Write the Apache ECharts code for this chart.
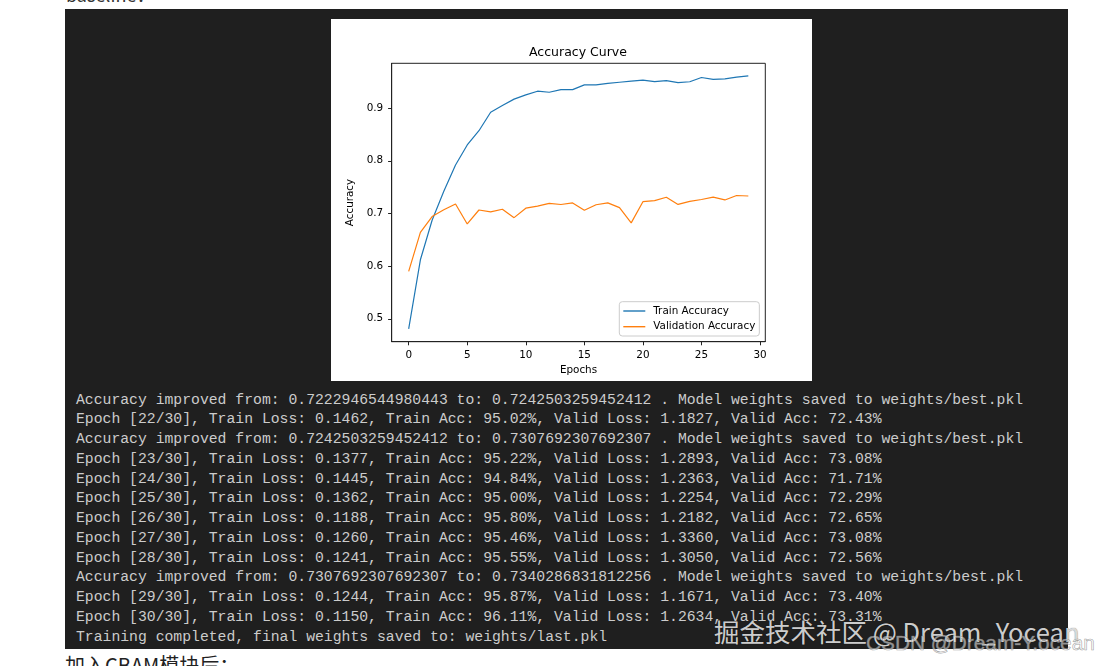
<!DOCTYPE html>
<html>
<head>
<meta charset="utf-8">
<script src="https://cdn.jsdelivr.net/npm/echarts@6/dist/echarts.min.js"></script>
<style>
html,body{margin:0;padding:0;background:#fff;width:1101px;height:666px;overflow:hidden;position:relative;}
#top{position:absolute;left:66px;top:-16px;font-family:"Noto Sans CJK SC","Noto Sans",sans-serif;font-size:18px;line-height:20px;color:#333;white-space:pre;}
#term{position:absolute;left:65px;top:9px;width:1003px;height:640px;background:#1f1f1f;overflow:hidden;}
#lines{position:absolute;left:11px;top:381.5px;font-family:"Liberation Mono","DejaVu Sans Mono",monospace;font-size:14.75px;line-height:19.75px;color:#cccccc;white-space:pre;}
#chart{position:absolute;left:331px;top:19px;width:481px;height:362px;background:#fff;}
#bottom{position:absolute;left:65px;top:653px;font-family:"Noto Sans CJK SC",sans-serif;font-size:20px;line-height:24px;color:#222;white-space:pre;}
#wm1{position:absolute;left:714px;top:615px;font-family:"Noto Sans CJK SC",sans-serif;font-size:25.5px;line-height:32px;color:rgba(232,232,232,0.9);text-shadow:0 0 1px rgba(0,0,0,0.6);white-space:pre;}
#wm2{position:absolute;left:866px;top:630px;font-family:"Liberation Sans",sans-serif;font-size:20.8px;line-height:26px;color:rgba(255,255,255,0.55);-webkit-text-stroke:0.6px rgba(130,130,130,0.75);white-space:pre;}
</style>
</head>
<body>
<div id="top">baseline：</div>
<div id="term"><div id="lines"></div></div>
<div id="chart"></div>
<div id="bottom">加入CBAM模块后：</div>
<div id="wm1">掘金技术社区 @ Dream_Yocean</div>
<div id="wm2">CSDN @Dream-Y.ocean</div>
<script>
// ---- chart data ----
const epochs = [0,1,2,3,4,5,6,7,8,9,10,11,12,13,14,15,16,17,18,19,20,21,22,23,24,25,26,27,28,29];
const trainAcc = [0.481,0.612,0.687,0.742,0.792,0.830,0.857,0.892,0.905,0.917,0.925,0.932,0.930,0.935,0.935,0.944,0.944,0.947,0.949,0.951,0.953,0.9502,0.9522,0.9484,0.9500,0.9580,0.9546,0.9555,0.9587,0.9611];
const valAcc = [0.590,0.664,0.694,0.707,0.718,0.680,0.7065,0.703,0.708,0.692,0.710,0.714,0.719,0.717,0.720,0.706,0.7165,0.720,0.711,0.682,0.7223,0.7243,0.7308,0.7171,0.7229,0.7265,0.7308,0.7256,0.7340,0.7331];
const xTicks = [0,5,10,15,20,25,30];
const yTicks = [0.5,0.6,0.7,0.8,0.9];
const seriesNames = ['Train Accuracy','Validation Accuracy'];
const chartTitle = 'Accuracy Curve';
const xName = 'Epochs';
const yName = 'Accuracy';

// ---- terminal text ----
const termLines = [
'Accuracy improved from: 0.7222946544980443 to: 0.7242503259452412 . Model weights saved to weights/best.pkl',
'Epoch [22/30], Train Loss: 0.1462, Train Acc: 95.02%, Valid Loss: 1.1827, Valid Acc: 72.43%',
'Accuracy improved from: 0.7242503259452412 to: 0.7307692307692307 . Model weights saved to weights/best.pkl',
'Epoch [23/30], Train Loss: 0.1377, Train Acc: 95.22%, Valid Loss: 1.2893, Valid Acc: 73.08%',
'Epoch [24/30], Train Loss: 0.1445, Train Acc: 94.84%, Valid Loss: 1.2363, Valid Acc: 71.71%',
'Epoch [25/30], Train Loss: 0.1362, Train Acc: 95.00%, Valid Loss: 1.2254, Valid Acc: 72.29%',
'Epoch [26/30], Train Loss: 0.1188, Train Acc: 95.80%, Valid Loss: 1.2182, Valid Acc: 72.65%',
'Epoch [27/30], Train Loss: 0.1260, Train Acc: 95.46%, Valid Loss: 1.3360, Valid Acc: 73.08%',
'Epoch [28/30], Train Loss: 0.1241, Train Acc: 95.55%, Valid Loss: 1.3050, Valid Acc: 72.56%',
'Accuracy improved from: 0.7307692307692307 to: 0.7340286831812256 . Model weights saved to weights/best.pkl',
'Epoch [29/30], Train Loss: 0.1244, Train Acc: 95.87%, Valid Loss: 1.1671, Valid Acc: 73.40%',
'Epoch [30/30], Train Loss: 0.1150, Train Acc: 96.11%, Valid Loss: 1.2634, Valid Acc: 73.31%',
'Training completed, final weights saved to: weights/last.pkl'
];
document.getElementById('lines').textContent = termLines.join('\n');

const chart = echarts.init(document.getElementById('chart'), null, {renderer:'canvas'});
const axisColor = '#222';
const font = 'DejaVu Sans';
chart.setOption({
  backgroundColor:'#fff',
  animation:false,
  textStyle:{fontFamily:font},
  title:{text:chartTitle, left:198, top:27.5, padding:0,
    textStyle:{fontFamily:font, fontSize:12.5, fontWeight:'normal', color:'#000'}},
  grid:{left:60.7, top:44.3, width:373.6, height:278.4, show:true, borderColor:axisColor, borderWidth:1, backgroundColor:'transparent'},
  xAxis:{type:'value', min:-1.45, max:30.45,
    name:xName, nameLocation:'middle', nameGap:22,
    nameTextStyle:{fontFamily:font, fontSize:10.4, color:'#000'},
    axisLine:{show:true, onZero:false, lineStyle:{color:axisColor, width:1}},
    axisTick:{show:true, inside:false, length:3.6, customValues:xTicks, lineStyle:{color:axisColor, width:1}},
    axisLabel:{show:true, customValues:xTicks, margin:8.5, fontFamily:font, fontSize:10.4, color:'#000', formatter:v=>String(v)},
    splitLine:{show:false}},
  yAxis:{type:'value', min:0.4565, max:0.985,
    name:yName, nameLocation:'middle', nameGap:21.5,
    nameTextStyle:{fontFamily:font, fontSize:10.4, color:'#000'},
    axisLine:{show:true, onZero:false, lineStyle:{color:axisColor, width:1}},
    axisTick:{show:true, inside:false, length:3.6, customValues:yTicks, lineStyle:{color:axisColor, width:1}},
    axisLabel:{show:true, customValues:yTicks, margin:8.5, fontFamily:font, fontSize:10.4, color:'#000', formatter:v=>Number(v).toFixed(1)},
    splitLine:{show:false}},
  legend:{left:288.3, top:282.7, orient:'vertical', icon:'rect', itemWidth:22, itemHeight:1.4, itemGap:1.7,
    padding:[2.3,4,2.3,4], borderColor:'#cccccc', borderWidth:1, borderRadius:3,
    backgroundColor:'rgba(255,255,255,0.8)',
    textStyle:{fontFamily:font, fontSize:10.4, lineHeight:14, height:14, color:'#000', padding:[0,0,0,3]},
    data:seriesNames},
  series:[
    {type:'line', name:seriesNames[0], data:epochs.map((e,i)=>[e,trainAcc[i]]), symbol:'none', showSymbol:false,
     lineStyle:{color:'#1f77b4', width:1.2}, itemStyle:{color:'#1f77b4'}},
    {type:'line', name:seriesNames[1], data:epochs.map((e,i)=>[e,valAcc[i]]), symbol:'none', showSymbol:false,
     lineStyle:{color:'#ff7f0e', width:1.2}, itemStyle:{color:'#ff7f0e'}}
  ]
});
</script>
</body>
</html>
